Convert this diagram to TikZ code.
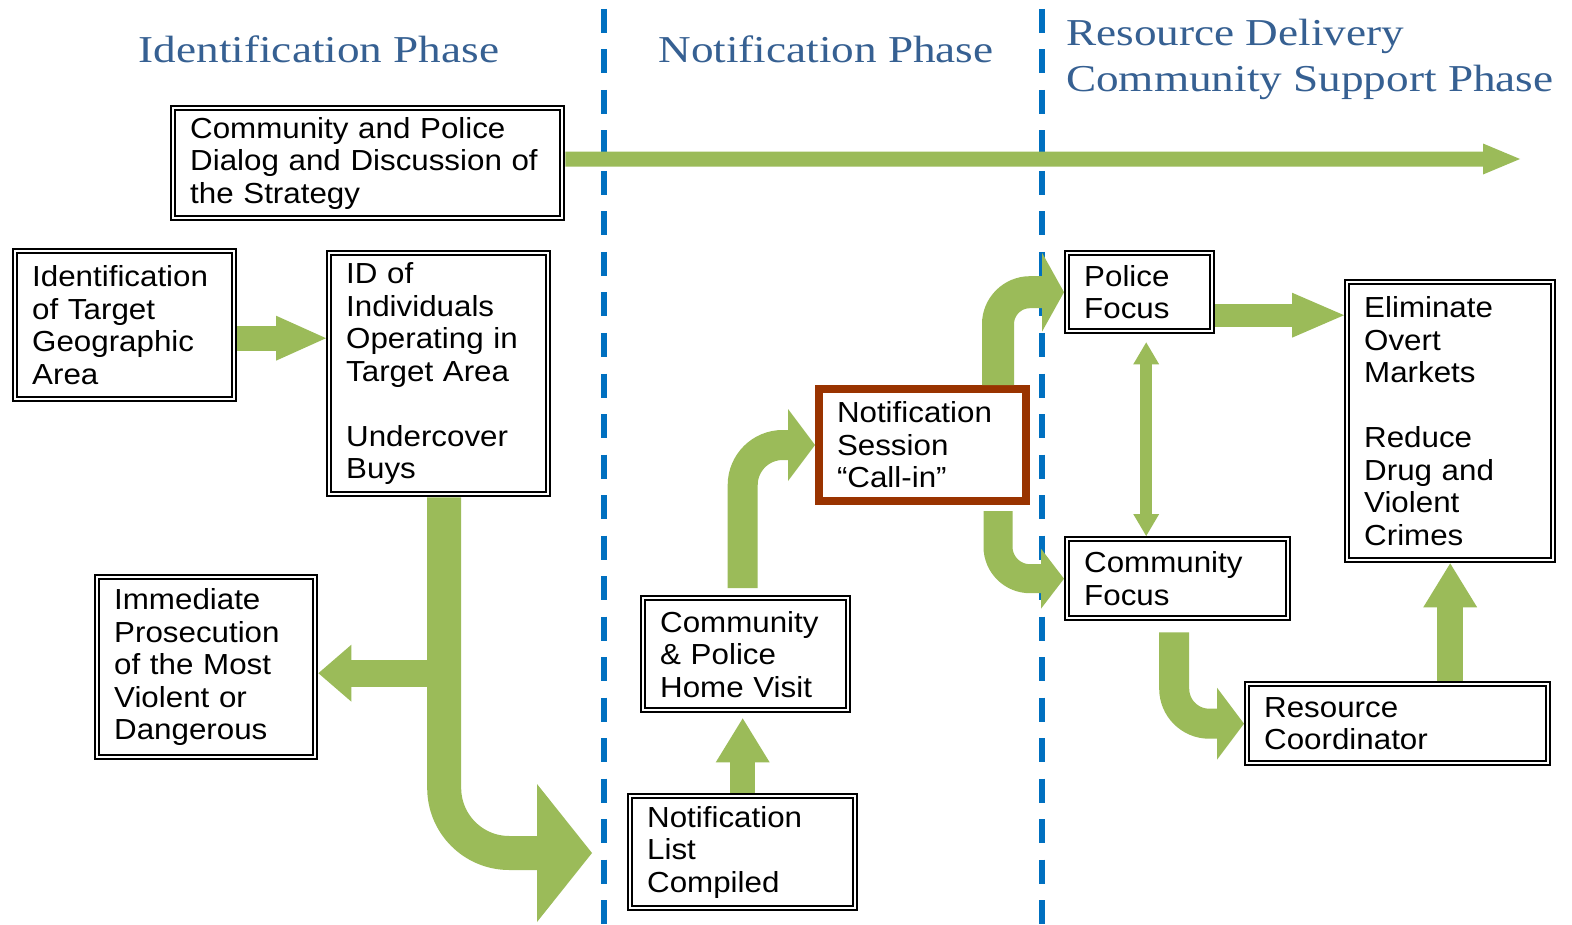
\documentclass[tikz,border=0pt]{standalone}
\usepackage{fontspec}
\usepackage{tikz}
\usetikzlibrary{arrows.meta}
\newfontfamily\boxfont[FakeStretch=1.08]{Liberation Sans}
\newfontfamily\phasefont[FakeStretch=1.19]{Liberation Serif}
\definecolor{flowgreen}{HTML}{9BBB59}
\definecolor{phaseblue}{RGB}{54,96,146}
\definecolor{dividerblue}{HTML}{0070C0}
\definecolor{callbrown}{HTML}{993300}

\begin{document}
\begin{tikzpicture}[x=1pt, y=-1pt,
  textbox/.style = {shape=rectangle, fill=white, align=left,
    anchor=north west, inner ysep=2pt,
    font=\boxfont\fontsize{29}{32.5}\selectfont},
  box/.style = {textbox, draw, double, line width=2.2pt,
    double distance=2pt, outer sep=3.2pt, inner xsep=17pt},
  callbox/.style = {textbox, draw=callbrown, line width=8pt,
    outer sep=4pt, inner xsep=18pt},
  phase/.style = {text=phaseblue, anchor=base, inner sep=0pt,
    font=\phasefont\fontsize{38}{47}\selectfont},
  divider/.style = {draw=dividerblue, line width=6pt,
    dash pattern=on 24pt off 16.5pt},
  flow/.style = {draw=flowgreen},
  greenhead/.style 2 args = {-{Triangle[length=#1, width=#2, line width=0pt]}}]
  \useasboundingbox (0,0) rectangle (1572,925);
  \fill[white] (0,0) rectangle (1572,925);

  \node[phase] (idphase) at (319,63) {Identification Phase};
  \node[phase] (notphase) at (826,63) {Notification Phase};
  \node[phase, anchor=base west] (resphase) at (1066,46) {Resource Delivery};
  \node[phase, anchor=base west] (supphase) at (1066,92) {Community Support Phase};

  \draw[divider] (604,9) -- (604,925);
  \draw[divider] (1042,9) -- (1042,925);

  \node[box, text width=355pt, minimum height=110pt] (strategy) at (170,105)
    {Community and Police\\Dialog and Discussion of\\the Strategy};
  \node[box, text width=185pt, minimum height=148pt] (ident) at (12,248)
    {Identification\\of Target\\Geographic\\Area};
  \node[box, text width=185pt, minimum height=241pt] (idbuys) at (326,250)
    {ID of\\Individuals\\Operating in\\Target Area\\[32.5pt]Undercover\\Buys};
  \node[box, text width=184pt, minimum height=180pt] (prosec) at (94,574)
    {Immediate\\Prosecution\\of the Most\\Violent or\\Dangerous};
  \node[box, text width=171pt, minimum height=112pt] (homevisit) at (640,595)
    {Community\\\& Police\\Home Visit};
  \node[box, text width=191pt, minimum height=112pt] (list) at (627,793)
    {Notification\\List\\Compiled};
  \node[callbox, text width=171pt, minimum height=112pt] (session) at (815,385)
    {Notification\\Session\\“Call-in”};
  \node[box, text width=111pt, minimum height=78pt] (police) at (1064,250)
    {Police\\Focus};
  \node[box, text width=187pt, minimum height=79pt] (cfocus) at (1064,536)
    {Community\\Focus};
  \node[box, text width=172pt, minimum height=278pt] (elim) at (1344,279)
    {Eliminate\\Overt\\Markets\\[32.5pt]Reduce\\Drug and\\Violent\\Crimes};
  \node[box, text width=267pt, minimum height=79pt] (rescoord) at (1244,681)
    {Resource\\Coordinator};

  \coordinate (timeend) at (1520,159);
  \coordinate (listin) at (592,853);

  \draw[flow, line width=15pt, greenhead={37pt}{31pt}]
    ([yshift=4pt]strategy.east) -- (timeend);
  \draw[flow, line width=25pt, greenhead={50pt}{45pt}]
    ([yshift=-13pt]ident.east) -- ([yshift=-13pt]ident.east -| idbuys.west);
  \draw[flow, line width=34pt, rounded corners=65pt, greenhead={55pt}{138pt}]
    ([xshift=5.5pt]idbuys.south) |- (listin);
  \draw[flow, line width=27pt, greenhead={33pt}{57pt}]
    ([xshift=5.5pt, yshift=-6pt]idbuys.south |- prosec.east) -- ([yshift=-6pt]prosec.east);
  \draw[flow, line width=25pt, shorten >=5pt, greenhead={44pt}{54pt}]
    (list.north) -- (list.north |- homevisit.south);
  \draw[flow, line width=30pt, rounded corners=40pt, shorten <=7pt, greenhead={27pt}{72pt}]
    ([xshift=-3pt]homevisit.north) |- (session.west);
  \draw[flow, line width=32pt, rounded corners=32pt, greenhead={22pt}{79pt}]
    ([xshift=-32pt]session.north east) |- (police.west);
  \draw[flow, line width=29pt, rounded corners=32pt, shorten <=6pt, greenhead={23pt}{60pt}]
    ([xshift=-32pt]session.south east) |- (cfocus.west);
  \draw[flow, line width=23pt, greenhead={52pt}{45pt}]
    ([yshift=-23pt]police.east) -- ([yshift=-23pt]police.east -| elim.west);
  \draw[flow, line width=12pt, shorten <=8pt,
    {Triangle[length=22pt, width=26pt, line width=0pt]}-{Triangle[length=22pt, width=26pt, line width=0pt]}]
    ([xshift=6.5pt]police.south) -- ([xshift=6.5pt]police.south |- cfocus.north);
  \draw[flow, line width=30pt, rounded corners=35pt, shorten <=11pt, greenhead={27pt}{72pt}]
    ([xshift=-3.5pt]cfocus.south) |- (rescoord.west);
  \draw[flow, line width=26pt, greenhead={44pt}{54pt}]
    (rescoord.north -| elim.south) -- (elim.south);
\end{tikzpicture}
\end{document}
